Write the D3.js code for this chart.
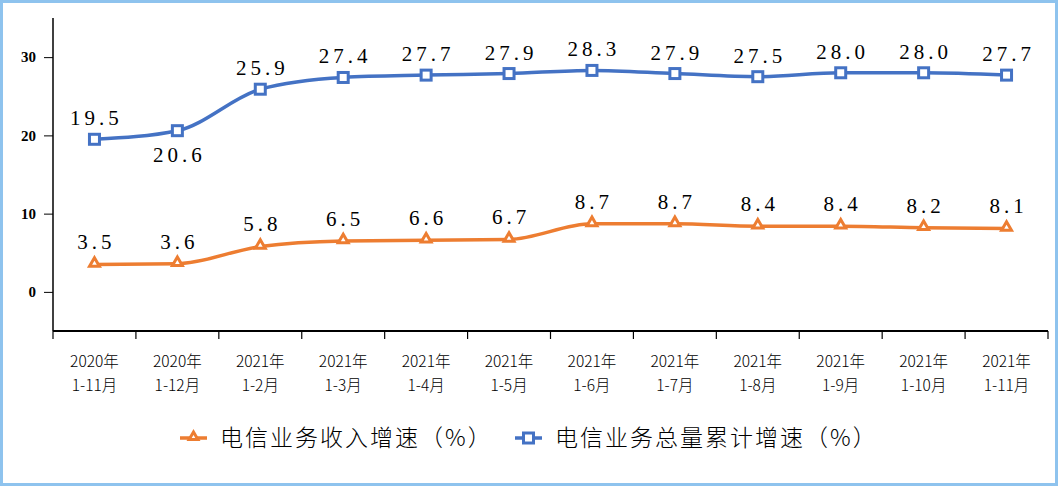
<!DOCTYPE html>
<html><head><meta charset="utf-8">
<script src="https://cdn.jsdelivr.net/npm/d3@7"></script>
<style>
html,body{margin:0;padding:0;background:#fff;}
svg{display:block;}
</style></head>
<body><svg id="c" width="1058" height="486"></svg>
<script>
const years = ["2020年","2020年","2021年","2021年","2021年","2021年","2021年","2021年","2021年","2021年","2021年","2021年"];
const periods = ["1-11月","1-12月","1-2月","1-3月","1-4月","1-5月","1-6月","1-7月","1-8月","1-9月","1-10月","1-11月"];
const revenueGrowth = [3.5,3.6,5.8,6.5,6.6,6.7,8.7,8.7,8.4,8.4,8.2,8.1];
const volumeGrowth = [19.5,20.6,25.9,27.4,27.7,27.9,28.3,27.9,27.5,28.0,28.0,27.7];
const yTicks = [0,10,20,30];
const seriesNames = ["电信业务收入增速（%）","电信业务总量累计增速（%）"];

(function(){
const svg = d3.select("#c");
const W = 1058, H = 486;
const orange = "#ED7D31", blue = "#4472C4";
const serif = "'Liberation Serif','DejaVu Serif','Noto Sans CJK SC',serif";
const cjk = "'Noto Sans CJK SC',sans-serif";

svg.append("rect").attr("x",1.5).attr("y",1.5).attr("width",W-3).attr("height",H-3)
  .attr("fill","#fff").attr("stroke","#8EC3EE").attr("stroke-width",3);

const pL = 53, pR = 1048, pT = 18, pB = 331;
const idx = d3.range(years.length);
const x = d3.scaleBand().domain(idx).range([pL,pR]);
const y = d3.scaleLinear().domain([-5,35]).range([pB,pT]);
const cx = i => x(i) + x.bandwidth()/2;

// y axis
const yAxis = svg.append("g").attr("transform",`translate(${pL},0)`)
  .call(d3.axisLeft(y).tickValues(yTicks).tickSize(9).tickPadding(8).tickFormat(d3.format("d")));
yAxis.select(".domain").attr("stroke","#000").attr("stroke-width",1.5).attr("d",`M0,${pT}V${pB}`);
yAxis.selectAll(".tick line").attr("stroke","#000").attr("stroke-width",1);
yAxis.selectAll(".tick text").attr("font-family",serif).attr("font-size",15).attr("font-weight","bold").attr("fill","#000");

// x axis
const xAxis = svg.append("g").attr("transform",`translate(0,${pB})`);
xAxis.append("path").attr("d",`M${pL},0H${pR}`).attr("stroke","#000").attr("stroke-width",2);
const bounds = d3.range(years.length+1).map(i => i < years.length ? x(i) : pR);
xAxis.selectAll("line.t").data(bounds).join("line").attr("class","t")
  .attr("x1",d=>d).attr("x2",d=>d).attr("y1",0).attr("y2",8)
  .attr("stroke","#000").attr("stroke-width",1.2);
const lbl = xAxis.selectAll("text.c").data(idx).join("text").attr("class","c")
  .attr("font-family",cjk).attr("font-size",15.5).attr("font-weight",300).attr("fill","#000").attr("text-anchor","middle");
lbl.append("tspan").attr("x",i=>cx(i)).attr("y",36).text(i=>years[i]);
lbl.append("tspan").attr("x",i=>cx(i)).attr("y",60).text(i=>periods[i]);

const line = d3.line().x((d,i)=>cx(i)).y(d=>y(d)).curve(d3.curveMonotoneX);

function drawSeries(vals, color, shape, labelOffsets){
  svg.append("path").datum(vals).attr("d",line).attr("fill","none")
    .attr("stroke",color).attr("stroke-width",3.5).attr("stroke-linejoin","round");
  const g = svg.append("g");
  vals.forEach((v,i)=>{
    if(shape==="tri"){
      g.append("path").attr("d",d3.symbol(d3.symbolTriangle2,70)())
        .attr("transform",`translate(${cx(i)},${y(v)-1})`)
        .attr("fill","#fff").attr("stroke",color).attr("stroke-width",3);
    } else {
      g.append("rect").attr("x",cx(i)-5).attr("y",y(v)-5).attr("width",10).attr("height",10)
        .attr("fill","#fff").attr("stroke",color).attr("stroke-width",3);
    }
  });
  svg.append("g").selectAll("text").data(vals).join("text")
    .attr("x",(d,i)=>cx(i)+2).attr("y",(d,i)=>y(d)+labelOffsets(i))
    .attr("text-anchor","middle").attr("font-family",serif).attr("font-size",21)
    .attr("letter-spacing",4).attr("fill","#000")
    .text(d=>d3.format(".1f")(d));
}
drawSeries(volumeGrowth, blue, "sq", i => i===1 ? 31 : -14);
drawSeries(revenueGrowth, orange, "tri", i => -15);

// legend
const lg = svg.append("g").attr("transform","translate(0,438)");
lg.append("line").attr("x1",180).attr("x2",207).attr("y1",0).attr("y2",0).attr("stroke",orange).attr("stroke-width",3.5);
lg.append("path").attr("d",d3.symbol(d3.symbolTriangle2,55)()).attr("transform","translate(193.5,-1)")
  .attr("fill","#fff").attr("stroke",orange).attr("stroke-width",3);
lg.append("text").attr("x",220).attr("y",8).attr("font-family",cjk).attr("font-weight",300)
  .attr("font-size",23).attr("letter-spacing",2).attr("fill","#000").text(seriesNames[0]);
lg.append("line").attr("x1",515).attr("x2",542).attr("y1",0).attr("y2",0).attr("stroke",blue).attr("stroke-width",3.5);
lg.append("rect").attr("x",523.5).attr("y",-5).attr("width",10).attr("height",10)
  .attr("fill","#fff").attr("stroke",blue).attr("stroke-width",3);
lg.append("text").attr("x",555).attr("y",8).attr("font-family",cjk).attr("font-weight",300)
  .attr("font-size",23).attr("letter-spacing",2).attr("fill","#000").text(seriesNames[1]);
})();
</script></body></html>
